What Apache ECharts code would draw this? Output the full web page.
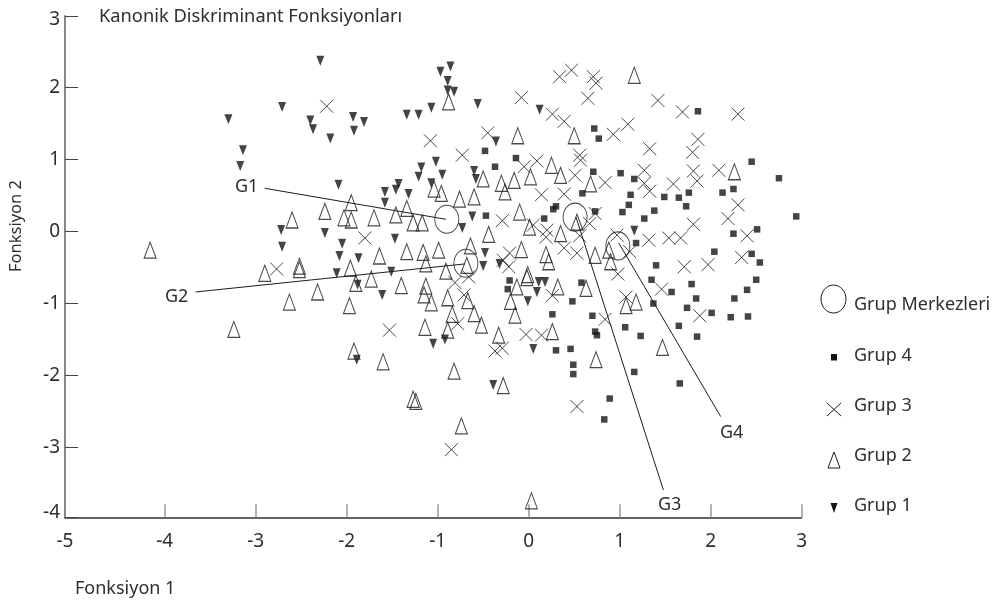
<!DOCTYPE html>
<html><head><meta charset="utf-8">
<script src="https://cdn.jsdelivr.net/npm/echarts@6/dist/echarts.min.js"></script>
<style>html,body{margin:0;padding:0;background:#fff}#c{width:994px;height:605px}</style>
</head><body><div id="c"></div>
<script>
const titleText = "Kanonik Diskriminant Fonksiyonları";
const xName = "Fonksiyon 1";
const yName = "Fonksiyon 2";
const xTicks = [-4,-3,-2,-1,0,1,2,3];
const yTicks = [-3,-2,-1,0,1,2];
const group1 = [[-2.29,2.37],[-2.71,1.73],[-3.30,1.56],[-3.14,1.13],[-3.17,0.91],[-2.40,1.54],[-2.37,1.42],[-2.18,1.29],[-1.93,1.59],[-1.92,1.40],[-1.81,1.52],[-1.34,1.62],[-1.21,1.62],[-1.07,1.72],[-1.18,0.89],[-1.21,0.76],[-2.09,0.65],[-1.58,0.55],[-1.43,0.66],[-1.46,0.58],[-1.32,0.52],[-1.58,0.40],[-2.24,-0.02],[-2.72,0.02],[-2.71,-0.21],[-2.05,-0.17],[-2.08,-0.34],[-1.87,-0.37],[-1.47,-0.10],[-2.11,-0.58],[-1.88,-0.74],[-1.51,-0.56],[-1.61,-0.88],[-1.89,-1.78],[-1.05,-1.56],[-0.92,-1.50],[-1.02,0.97],[-0.95,0.79],[-1.07,0.67],[-0.60,0.84],[-0.58,0.73],[-0.36,1.25],[-0.62,0.21],[-0.73,0.05],[-0.48,-0.30],[-0.50,-0.48],[-0.32,-0.45],[-0.86,2.29],[-0.97,2.22],[-0.89,2.09],[-0.89,1.96],[-0.82,1.94],[-0.56,1.77],[0.12,1.69],[1.16,0.01],[0.11,-0.70],[0.18,-0.70],[0.09,-0.84],[-0.01,-0.97],[0.05,-1.63],[-0.39,-2.13]];
const group2 = [[-4.16,-0.26],[-2.60,0.16],[-2.24,0.28],[-2.03,0.19],[-1.95,0.40],[-1.95,0.16],[-1.70,0.19],[-1.46,0.23],[-1.34,0.32],[-1.27,0.12],[-1.17,0.12],[-1.64,-0.34],[-1.34,-0.28],[-1.16,-0.29],[-2.90,-0.58],[-2.52,-0.48],[-2.52,-0.53],[-1.96,-0.51],[-1.90,-0.72],[-1.73,-0.66],[-2.32,-0.84],[-2.63,-0.98],[-1.40,-0.75],[-1.97,-1.03],[-3.24,-1.36],[-1.14,-1.33],[-1.92,-1.66],[-1.60,-1.81],[-1.27,-2.33],[-1.24,-2.36],[-1.13,-0.45],[-1.13,-0.76],[-1.15,-0.88],[-1.07,-0.99],[-1.04,0.59],[-0.96,0.53],[-0.76,0.45],[-0.60,0.48],[-0.50,0.73],[-0.88,1.80],[-0.44,-0.04],[-0.64,-0.20],[-0.68,-0.47],[-0.91,-0.55],[-0.89,-0.92],[-0.67,-0.96],[-0.84,-1.15],[-0.60,-1.14],[-0.89,-1.37],[-0.52,-1.30],[-0.33,-1.44],[-0.82,-1.94],[-0.12,1.33],[0.50,1.33],[1.16,2.17],[-0.30,0.67],[-0.16,0.71],[0.02,0.76],[0.25,0.92],[0.35,0.78],[-0.26,0.55],[0.68,0.66],[2.26,0.83],[-0.10,0.27],[0.01,0.06],[0.35,-0.03],[0.53,0.13],[-0.08,-0.25],[0.19,-0.32],[0.22,-0.42],[0.73,-0.33],[0.88,-0.26],[0.90,-0.42],[-0.01,-0.60],[-0.02,-0.64],[-0.13,-0.77],[0.32,-0.77],[0.63,-0.79],[-0.20,-0.97],[-0.15,-1.16],[1.07,-1.03],[1.18,-0.98],[0.26,-1.39],[1.47,-1.61],[0.74,-1.78],[-0.28,-2.14],[-0.74,-2.70],[0.03,-3.74],[-0.99,-0.26]];
const group3 = [[-2.22,1.74],[-1.80,-0.09],[-2.77,-0.52],[-1.53,-1.37],[-1.08,1.26],[-0.73,1.06],[-0.45,1.37],[0.34,2.15],[0.47,2.24],[0.71,2.15],[0.74,2.06],[0.65,1.85],[-0.08,1.86],[1.42,1.82],[1.69,1.66],[2.30,1.63],[0.26,1.63],[0.39,1.53],[1.09,1.49],[0.93,1.35],[1.86,1.28],[1.33,1.15],[1.80,1.10],[0.56,1.06],[0.57,0.99],[0.09,0.98],[-0.05,0.90],[1.27,0.85],[1.81,0.84],[2.09,0.85],[0.51,0.78],[0.84,0.68],[1.27,0.67],[1.33,0.56],[1.59,0.66],[1.85,0.70],[0.14,0.51],[0.39,0.52],[2.30,0.37],[2.19,0.18],[1.81,0.10],[-0.29,0.15],[0.73,0.25],[0.67,0.11],[0.05,0.09],[0.20,0.02],[0.19,-0.08],[0.56,-0.06],[0.97,-0.05],[1.32,-0.12],[1.54,-0.09],[1.67,-0.09],[2.40,-0.06],[0.39,-0.23],[0.53,-0.30],[1.11,-0.28],[2.34,-0.36],[1.97,-0.46],[1.71,-0.49],[-0.21,-0.30],[-0.28,-0.40],[-0.22,-0.49],[0.98,-0.59],[1.07,-0.91],[0.26,-0.89],[0.84,-1.22],[-0.03,-1.43],[0.14,-1.44],[-0.37,-1.66],[-0.29,-1.62],[-0.81,-0.71],[-0.66,-0.63],[-0.71,-0.88],[-0.78,-1.28],[1.46,-0.80],[1.88,-1.17],[0.53,-2.43],[-0.85,-3.03]];
const group4 = [[1.86,1.67],[0.72,1.43],[0.77,1.29],[-0.48,1.12],[-0.14,1.02],[-0.37,0.90],[0.71,0.83],[1.01,0.81],[1.16,0.73],[2.45,0.97],[2.75,0.74],[1.12,0.51],[0.59,0.53],[1.49,0.48],[1.65,0.47],[1.76,0.54],[2.13,0.54],[2.25,0.59],[1.73,0.35],[1.10,0.37],[1.38,0.29],[1.03,0.27],[1.27,0.18],[0.30,0.35],[0.27,0.31],[0.17,0.18],[0.73,0.28],[-0.47,0.22],[2.94,0.21],[1.18,-0.16],[2.51,0.03],[2.25,-0.03],[2.04,-0.28],[2.45,-0.31],[2.54,-0.43],[1.40,-0.47],[-0.21,-0.68],[-0.23,-0.80],[0.58,-0.71],[0.48,-0.97],[0.26,-1.15],[0.70,-1.17],[0.73,-1.39],[0.75,-1.44],[1.06,-1.33],[1.23,-1.45],[0.30,-1.65],[0.46,-1.63],[0.49,-1.85],[0.49,-1.98],[1.16,-1.95],[0.89,-2.32],[0.83,-2.61],[1.66,-2.11],[1.35,-0.67],[1.57,-0.84],[1.37,-1.00],[1.79,-0.73],[1.84,-0.93],[1.74,-1.06],[2.01,-1.13],[1.65,-1.31],[1.85,-1.46],[2.22,-1.19],[2.41,-1.18],[2.26,-0.93],[2.40,-0.81],[2.50,-0.67]];
const centroids = [[-0.90,0.17],[-0.69,-0.44],[0.51,0.20],[0.98,-0.20]];
const leaderG1 = [[-2.90,0.60],[-0.91,0.17]];
const leaderG2 = [[-3.66,-0.84],[-0.70,-0.45]];
const leaderG3 = [[1.48,-3.59],[0.52,0.20]];
const leaderG4 = [[2.11,-2.57],[0.99,-0.16]];
const leaderLabels = ["G1","G2","G3","G4"];
const legendNames = ["Grup Merkezleri","Grup 4","Grup 3","Grup 2","Grup 1"];

const ink = '#1c1c1c', txt = '#2e2e2e';
const font = '"Noto Sans"';
const xMin = -5.0956, xMax = 3, yMin = -3.969, yMax = 2.993;
const tri = 'triangle';
const triDown = 'path://M0 0L10 0L5 13Z';
const cross = 'path://M0 0L10 10M10 0L0 10';

const outline = {color:'transparent', borderColor:ink, borderWidth:1.1};
function leader(d){return {type:'line',data:d,symbol:'none',silent:true,z:5,lineStyle:{color:ink,width:1},animation:false};}
const T = (text,x,y,size) => ({type:'text',left:x,top:y,style:{text,fill:txt,font:(size||18)+'px '+font},z:20});

const option = {
  backgroundColor:'#fff', animation:false,
  title:{text:titleText,left:99,top:8,padding:0,textStyle:{fontFamily:font,fontWeight:'normal',fontSize:18.3,color:txt}},
  grid:{left:65,right:192.3,top:16,bottom:87.7,containLabel:false},
  xAxis:{type:'value',min:xMin,max:xMax,splitLine:{show:false},
    axisLine:{show:true,onZero:false,lineStyle:{color:'#333',width:1.5}},
    axisTick:{show:true,inside:true,length:13,customValues:xTicks,lineStyle:{color:'#999',width:1.5}},
    axisLabel:{customValues:[xMin].concat(xTicks),margin:15,fontFamily:font,fontSize:19,color:txt,formatter:v=>String(Math.round(v)),showMinLabel:true,showMaxLabel:true,hideOverlap:false}},
  yAxis:{type:'value',min:yMin,max:yMax,splitLine:{show:false},
    axisLine:{show:true,onZero:false,lineStyle:{color:'#888',width:2}},
    axisTick:{show:true,inside:true,length:13,customValues:[yMin].concat(yTicks,[yMax]),lineStyle:{color:'#444',width:1}},
    axisLabel:{customValues:[-3.9].concat(yTicks,[2.94]),margin:5,fontFamily:font,fontSize:19,color:txt,formatter:v=>String(Math.round(v)),showMinLabel:true,showMaxLabel:true,hideOverlap:false}},
  series:[
    {name:'Grup 1',type:'scatter',data:group1,symbol:triDown,symbolSize:[8,10],itemStyle:{color:'#151515'},z:3},
    {name:'Grup 2',type:'scatter',data:group2,symbol:tri,symbolSize:[12,16],itemStyle:outline,z:3},
    {name:'Grup 3',type:'scatter',data:group3,symbol:cross,symbolSize:[13,13],itemStyle:{color:'transparent',borderColor:ink,borderWidth:1},z:3},
    {name:'Grup 4',type:'scatter',data:group4,symbol:'rect',symbolSize:[6.5,6.5],itemStyle:{color:'#151515'},z:3},
    {name:'Grup Merkezleri',type:'scatter',data:centroids,symbol:'circle',symbolSize:[24,28],itemStyle:{color:'transparent',borderColor:ink,borderWidth:1},z:4},
    leader(leaderG1),leader(leaderG2),leader(leaderG3),leader(leaderG4)
  ],
  graphic:[
    T(xName,75,580),
    {type:'text',x:16,y:226,rotation:Math.PI/2,style:{text:yName,fill:txt,font:'16.5px '+font,align:'center',verticalAlign:'middle'},z:20},
    T(leaderLabels[0],235,178),T(leaderLabels[1],165,288),T(leaderLabels[2],658,496),T(leaderLabels[3],720,424),
    T(legendNames[0],854,296),T(legendNames[1],854,347),T(legendNames[2],854,397),T(legendNames[3],854,447),T(legendNames[4],854,497),
    {type:'ellipse',shape:{cx:833.5,cy:299,rx:12.5,ry:14},style:{fill:'none',stroke:ink,lineWidth:1},z:20},
    {type:'rect',shape:{x:831,y:354,width:6,height:6.5},style:{fill:'#151515'},z:20},
    {type:'polyline',shape:{points:[[827,403],[841,416]]},style:{fill:'none',stroke:ink,lineWidth:1},z:20},
    {type:'polyline',shape:{points:[[841,403],[827,416]]},style:{fill:'none',stroke:ink,lineWidth:1},z:20},
    {type:'polygon',shape:{points:[[834,452],[828,468],[840,468]]},style:{fill:'none',stroke:ink,lineWidth:1},z:20},
    {type:'polygon',shape:{points:[[830.5,503],[837.5,503],[834,513]]},style:{fill:'#151515'},z:20}
  ]
};
echarts.init(document.getElementById('c'),null,{renderer:'canvas'}).setOption(option);
</script></body></html>
